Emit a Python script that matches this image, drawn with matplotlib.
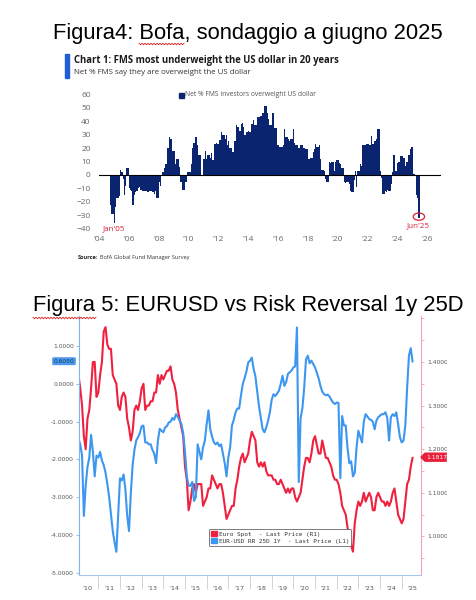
import numpy as np
import pandas as pd
import matplotlib
matplotlib.use("Agg")
import matplotlib.pyplot as plt
from matplotlib.patches import Rectangle, Ellipse, Polygon
from matplotlib.lines import Line2D

# ---- data: chart 1 (BofA FMS, monthly, Oct 2004 - Jun 2025) ----
fms_start = "2004-10-01"
fms_net = [
    -22, -29, -29, -36, -24, -17, -17, -16, 4, 2, -3, -15,
    -8, 5, 5, -10, -11, -12, -22, -15, -13, -12, -10, -9,
    -11, -11, -12, -12, -12, -12, -13, -12, -12, -12, -13, -14, -12,
    -17, -17, -5, -8, 0, 2, 5, 8, 8, 20, 28, 27,
    27, 18, 18, 8, 12, 12, 6, -5, -5, -11, -11, -5,
    -5, 2, 2, 2, 8, 20, 24, 28, 28, 22, 15, 15,
    -1, -1, 12, 18, 12, 15, 15, 13, 16, 11, 11, 23,
    24, 23, 23, 26, 32, 30, 30, 27, 30, 22, 25, 20,
    20, 17, 17, 25, 37, 36, 36, 33, 38, 39, 36, 30,
    32, 32, 33, 32, 38, 38, 41, 37, 37, 43, 43, 43, 44,
    46, 46, 51, 51, 46, 42, 37, 37, 46, 46, 35, 35,
    22, 22, 21, 21, 21, 22, 34, 28, 28, 27, 25, 27,
    27, 34, 24, 22, 22, 20, 20, 22, 22, 20, 20, 19,
    19, 12, 12, 13, 13, 17, 19, 23, 21, 21, 22, 12,
    4, 4, 3, -3, -5, -5, 10, 9, 10, 10, 3, 10,
    11, 11, 9, 8, 5, 5, -5, -6, -5, -5, -7, -12,
    -13, -13, -4, 3, -9, 3, 3, 8, 7, 22, 22, 22, 23,
    23, 22, 22, 29, 23, 25, 25, 27, 34, 34, 3, -2,
    -14, -14, -12, -13, -11, -12, -12, -7, 2, 15, 3, 3,
    9, 10, 14, 14, 14, 13, 7, 10, 10, 15, 19, 21,
    21, 1, -1, -15, -17, -32,
]
fms_ticks = list(range(2004, 2027, 2))
fms_ticklabels = ["'%02d" % (y % 100) for y in fms_ticks]

# ---- data: chart 2 (monthly, Feb 2010 - Jul 2025) ----
fx_start = "2010-02-01"
eurusd = [
    1.37, 1.34, 1.30, 1.23, 1.20, 1.27, 1.29, 1.34, 1.40, 1.40, 1.32,
    1.33, 1.37, 1.40, 1.47, 1.48, 1.44, 1.43, 1.43, 1.37, 1.36, 1.35, 1.30,
    1.29, 1.32, 1.33, 1.32, 1.27, 1.25, 1.22, 1.24, 1.29, 1.30, 1.29, 1.31,
    1.34, 1.35, 1.29, 1.30, 1.30, 1.31, 1.31, 1.33, 1.33, 1.37, 1.35, 1.37,
    1.36, 1.37, 1.38, 1.38, 1.39, 1.36, 1.35, 1.33, 1.29, 1.27, 1.25, 1.23,
    1.16, 1.13, 1.06, 1.08, 1.11, 1.12, 1.10, 1.12, 1.12, 1.12, 1.07, 1.08,
    1.09, 1.11, 1.11, 1.14, 1.13, 1.12, 1.11, 1.12, 1.12, 1.10, 1.07, 1.04,
    1.05, 1.06, 1.07, 1.07, 1.11, 1.13, 1.16, 1.18, 1.19, 1.17, 1.18, 1.19,
    1.22, 1.24, 1.23, 1.22, 1.17, 1.16, 1.17, 1.16, 1.17, 1.15, 1.14, 1.14,
    1.14, 1.13, 1.13, 1.12, 1.12, 1.13, 1.12, 1.11, 1.10, 1.11, 1.10, 1.11,
    1.11, 1.09, 1.08, 1.09, 1.10, 1.13, 1.16, 1.18, 1.18, 1.17, 1.19, 1.22,
    1.23, 1.21, 1.19, 1.19, 1.22, 1.20, 1.18, 1.18, 1.17, 1.16, 1.14, 1.13,
    1.13, 1.12, 1.10, 1.07, 1.06, 1.05, 1.02, 1.00, 0.98, 0.965, 1.03, 1.06,
    1.08, 1.07, 1.08, 1.10, 1.08, 1.09, 1.10, 1.09, 1.06, 1.06, 1.09, 1.10,
    1.09, 1.08, 1.08, 1.07, 1.08, 1.07, 1.08, 1.10, 1.11, 1.08, 1.05, 1.04,
    1.03, 1.04, 1.08, 1.12, 1.13, 1.16, 1.18,
]
rr_25d_1y = [
    -1.45, -1.6, -1.9, -3.5, -2.7, -2.2, -1.95, -1.35, -1.8, -2.45, -1.9,
    -1.95, -1.8, -2.03, -2.15, -2.35, -2.65, -3.0, -3.45, -3.9, -4.2, -4.45, -3.5,
    -2.5, -2.56, -2.4, -2.8, -3.5, -3.9, -2.9, -2.15, -1.75, -1.5, -1.41, -1.3,
    -1.12, -1.1, -1.55, -1.55, -1.6, -1.6, -1.75, -1.85, -2.1, -1.5, -1.19, -1.24,
    -1.28, -1.15, -1.12, -1.02, -1.0, -0.9, -0.95, -0.8, -0.87, -0.97, -1.06, -1.3,
    -1.8, -2.45, -2.7, -2.7, -2.6, -3.1, -3.0, -1.6, -1.8, -2.0, -1.68, -1.5,
    -1.06, -0.7, -1.2, -1.4, -1.55, -1.6, -1.55, -1.65, -1.6, -1.85, -2.1, -2.45,
    -1.95, -1.68, -1.1, -0.95, -0.75, -0.65, -0.65, -0.3, 0.0, 0.15, 0.33, 0.57,
    0.62, 0.7, 0.4, 0.2, -0.2, -0.6, -0.9, -1.2, -1.28, -1.15, -0.97, -0.75,
    -0.42, -0.27, -0.32, -0.25, -0.18, 0.0, 0.22, -0.05, 0.05, 0.27, 0.31, 0.36,
    0.44, 0.47, 1.5, -2.6, -0.9, -0.65, -0.1, 0.65, 0.75, 0.55, 0.62, 0.53,
    0.44, 0.3, 0.15, -0.05, -0.2, -0.27, -0.3, -0.28, -0.33, -0.42, -0.49, -0.53,
    -0.49, -0.5, -2.5, -0.85, -1.1, -1.1, -1.7, -2.1, -2.05, -2.45, -2.35, -1.68,
    -1.24, -1.4, -1.55, -1.0, -0.8, -0.86, -0.93, -0.95, -1.0, -1.2, -0.97, -0.88,
    -0.84, -0.8, -0.8, -0.75, -0.9, -1.5, -0.88, -0.8, -0.85, -0.75, -1.06, -1.41,
    -1.55, -1.5, -1.1, -0.1, 0.75, 0.95, 0.6,
]
rr_ticks = [1, 0, -1, -2, -3, -4, -5]
spot_ticks = [1.4, 1.3, 1.2, 1.1, 1.0]
year_labels = list(range(2010, 2026))
last_rr = 0.6050
last_spot = 1.1817

NAVY = "#0b2470"
BOFA_RED = "#d8203a"
RED = "#f0203f"
BLUE = "#3d96f0"

W, H = 476, 600
fig = plt.figure(figsize=(W / 100, H / 100), dpi=100)


def px_axes(left, top, right, bottom):
    return fig.add_axes([left / W, 1 - bottom / H, (right - left) / W, (bottom - top) / H])


def ptext(x, y, s, **kw):
    kw.setdefault("va", "center")
    return fig.text(x / W, 1 - y / H, s, **kw)


def wavy(x0, x1, y):
    # spell-check underline of the screenshot
    xs = np.arange(x0, x1 + 0.1, 1.5)
    ys = y + np.where(np.arange(len(xs)) % 2 == 0, -0.8, 0.8)
    fig.add_artist(Line2D(xs / W, 1 - ys / H, color="#e02020", lw=0.6))


# ---- headings ----
ptext(248, 34, "Figura4: Bofa, sondaggio a giugno 2025", ha="center",
      fontsize=15.8, family="Liberation Sans")
wavy(139, 185, 44)
ptext(248, 305, "Figura 5: EURUSD vs Risk Reversal 1y 25D", ha="center",
      fontsize=15.8, family="Liberation Sans")
wavy(33, 96, 318)

# ---- chart 1 ----
fig.add_artist(Rectangle((65 / W, 1 - 78 / H), 4 / W, 24 / H, color="#1f5fd6",
                         transform=fig.transFigure))
ptext(74, 60, "Chart 1: FMS most underweight the US dollar in 20 years",
      fontsize=6.85, fontweight="bold", family="Open Sans", color="#1a1a1a")
ptext(74, 72, "Net % FMS say they are overweight the US dollar",
      fontsize=5.7, family="Open Sans", color="#333333")

ax1 = px_axes(99, 91.7, 441, 231.4)
d1 = pd.date_range(fms_start, periods=len(fms_net), freq="MS")
x1 = d1.year + (d1.month - 1) / 12 + 1 / 24
ax1.bar(x1, fms_net, width=1 / 12 + 0.006, color=NAVY, linewidth=0)
ax1.axhline(0, color="black", lw=0.8, zorder=3)
ax1.set_xlim(2004, 2026.94)
ax1.set_ylim(-42, 62)
ax1.set_yticks(range(-40, 61, 10))
ax1.set_xticks(fms_ticks)
ax1.set_xticklabels(fms_ticklabels)
for s in ax1.spines.values():
    s.set_visible(False)
ax1.tick_params(axis="both", length=0, labelsize=6.0, labelcolor="#666666")
ax1.tick_params(axis="y", pad=6)
ax1.tick_params(axis="x", pad=3)
for lab in ax1.get_xticklabels() + ax1.get_yticklabels():
    lab.set_family("Open Sans")
ax1.add_patch(Ellipse((x1[-1], -31), 0.76, 5.4, fill=False, ec=BOFA_RED, lw=0.9,
                      clip_on=False))

fig.add_artist(Rectangle((179 / W, 1 - 97.5 / H), 5 / W, 5 / H, color=NAVY,
                         transform=fig.transFigure))
ptext(185, 95, "Net % FMS investors overweight US dollar", fontsize=4.9,
      family="Open Sans", color="#555555")
ptext(114, 229, "Jan'05", ha="center", fontsize=5.8, family="Open Sans", color=BOFA_RED)
ptext(418, 226, "Jun'25", ha="center", fontsize=5.8, family="Open Sans", color=BOFA_RED)
ptext(78, 258, "Source:", fontsize=4.1, fontweight="bold", family="Open Sans", color="#222222")
ptext(100, 258, "BofA Global Fund Manager Survey", fontsize=4.1, family="Open Sans",
      color="#333333")

# ---- chart 2 ----
ax2 = px_axes(79, 316, 421, 575)
ax2r = ax2.twinx()
ax2.set_zorder(ax2r.get_zorder() + 1)
ax2.patch.set_visible(False)

d2 = pd.date_range(fx_start, periods=len(eurusd), freq="MS")
x2 = d2.year + (d2.month - 1) / 12
ax2r.plot(x2, eurusd, color=RED, lw=1.5)
ax2.plot(x2, rr_25d_1y, color=BLUE, lw=1.5)

ax2.set_xlim(2010.109, 2025.89)
ax2.set_ylim(-5.066, 1.804)
ax2r.set_ylim(0.9115, 1.5055)

ax2.set_yticks(rr_ticks)
ax2.set_yticklabels(["%.4f" % v for v in rr_ticks])
ax2.tick_params(axis="y", direction="out", length=2.2, width=0.6, color="#7fb5ea",
                labelsize=4.3, labelcolor="#555555", pad=1.5)
ax2r.set_yticks(spot_ticks)
ax2r.set_yticks([0.95, 1.05, 1.15, 1.25, 1.35, 1.45, 1.5], minor=True)
ax2r.set_yticklabels(["%.4f" % v for v in spot_ticks])
ax2r.tick_params(axis="y", which="both", direction="out", length=2.2, width=0.6,
                 color="#f5a3b5", labelsize=4.3, labelcolor="#555555", pad=2.5)

ax2.set_xticks(np.array(year_labels) + 0.5)
ax2.set_xticklabels(["'%02d" % (y % 100) for y in year_labels])
ax2.set_xticks(range(2011, 2026), minor=True)
ax2.tick_params(axis="x", which="major", length=0, labelsize=4.6, labelcolor="#555555", pad=8)
ax2.tick_params(axis="x", which="minor", length=10, width=0.6, color="#cccccc")
ax2r.tick_params(axis="x", which="both", length=0, labelbottom=False)

for ax in (ax2, ax2r):
    ax.spines["top"].set_visible(False)
ax2.spines["right"].set_visible(False)
ax2.spines["left"].set_color("#7fb5ea")
ax2.spines["bottom"].set_color("#a9c8ea")
ax2r.spines["left"].set_visible(False)
ax2r.spines["bottom"].set_visible(False)
ax2r.spines["right"].set_color("#f5a3b5")
for ax in (ax2, ax2r):
    for s in ax.spines.values():
        s.set_linewidth(0.8)

handles = [Rectangle((0, 0), 1, 1, color=RED), Rectangle((0, 0), 1, 1, color=BLUE)]
leg = ax2.legend(handles, ["Euro Spot  - Last Price (R1)",
                           "EUR-USD RR 25D 1Y  - Last Price (L1)"],
                 loc="upper left", bbox_to_anchor=(209 / W, 1 - 529 / H),
                 bbox_transform=fig.transFigure, prop={"family": "DejaVu Sans Mono", "size": 4.3},
                 handlelength=0.9, handleheight=0.9, handletextpad=0.3, borderpad=0.4,
                 labelspacing=0.2, fancybox=True, framealpha=1, edgecolor="#666666",
                 borderaxespad=0)
leg.get_frame().set_linewidth(0.6)
for t in leg.get_texts():
    t.set_color("#333333")

# last value tags
ptext(64, 384 - 37.7 * last_rr, "%.4f" % last_rr, ha="center", fontsize=4.3,
      color="#12386e", bbox=dict(boxstyle="round,pad=0.25", fc="#4c9be8", ec="none"))
y_sp = 362 - (last_spot - 1.4) * 436
fig.add_artist(Polygon([(421 / W, 1 - y_sp / H), (425 / W, 1 - (y_sp - 4) / H),
                        (452 / W, 1 - (y_sp - 4) / H), (452 / W, 1 - (y_sp + 4) / H),
                        (425 / W, 1 - (y_sp + 4) / H)], closed=True, color="#e8203a",
                       transform=fig.transFigure))
ptext(426, y_sp, "%.4f" % last_spot, ha="left", fontsize=4.3, color="white")

# screenshot crop on the right edge
fig.add_artist(Rectangle((446.5 / W, 0), (W - 446.5) / W, 1 - 316 / H, color="white",
                         transform=fig.transFigure, zorder=10))

fig.savefig("out.png", dpi=100, facecolor="white")
